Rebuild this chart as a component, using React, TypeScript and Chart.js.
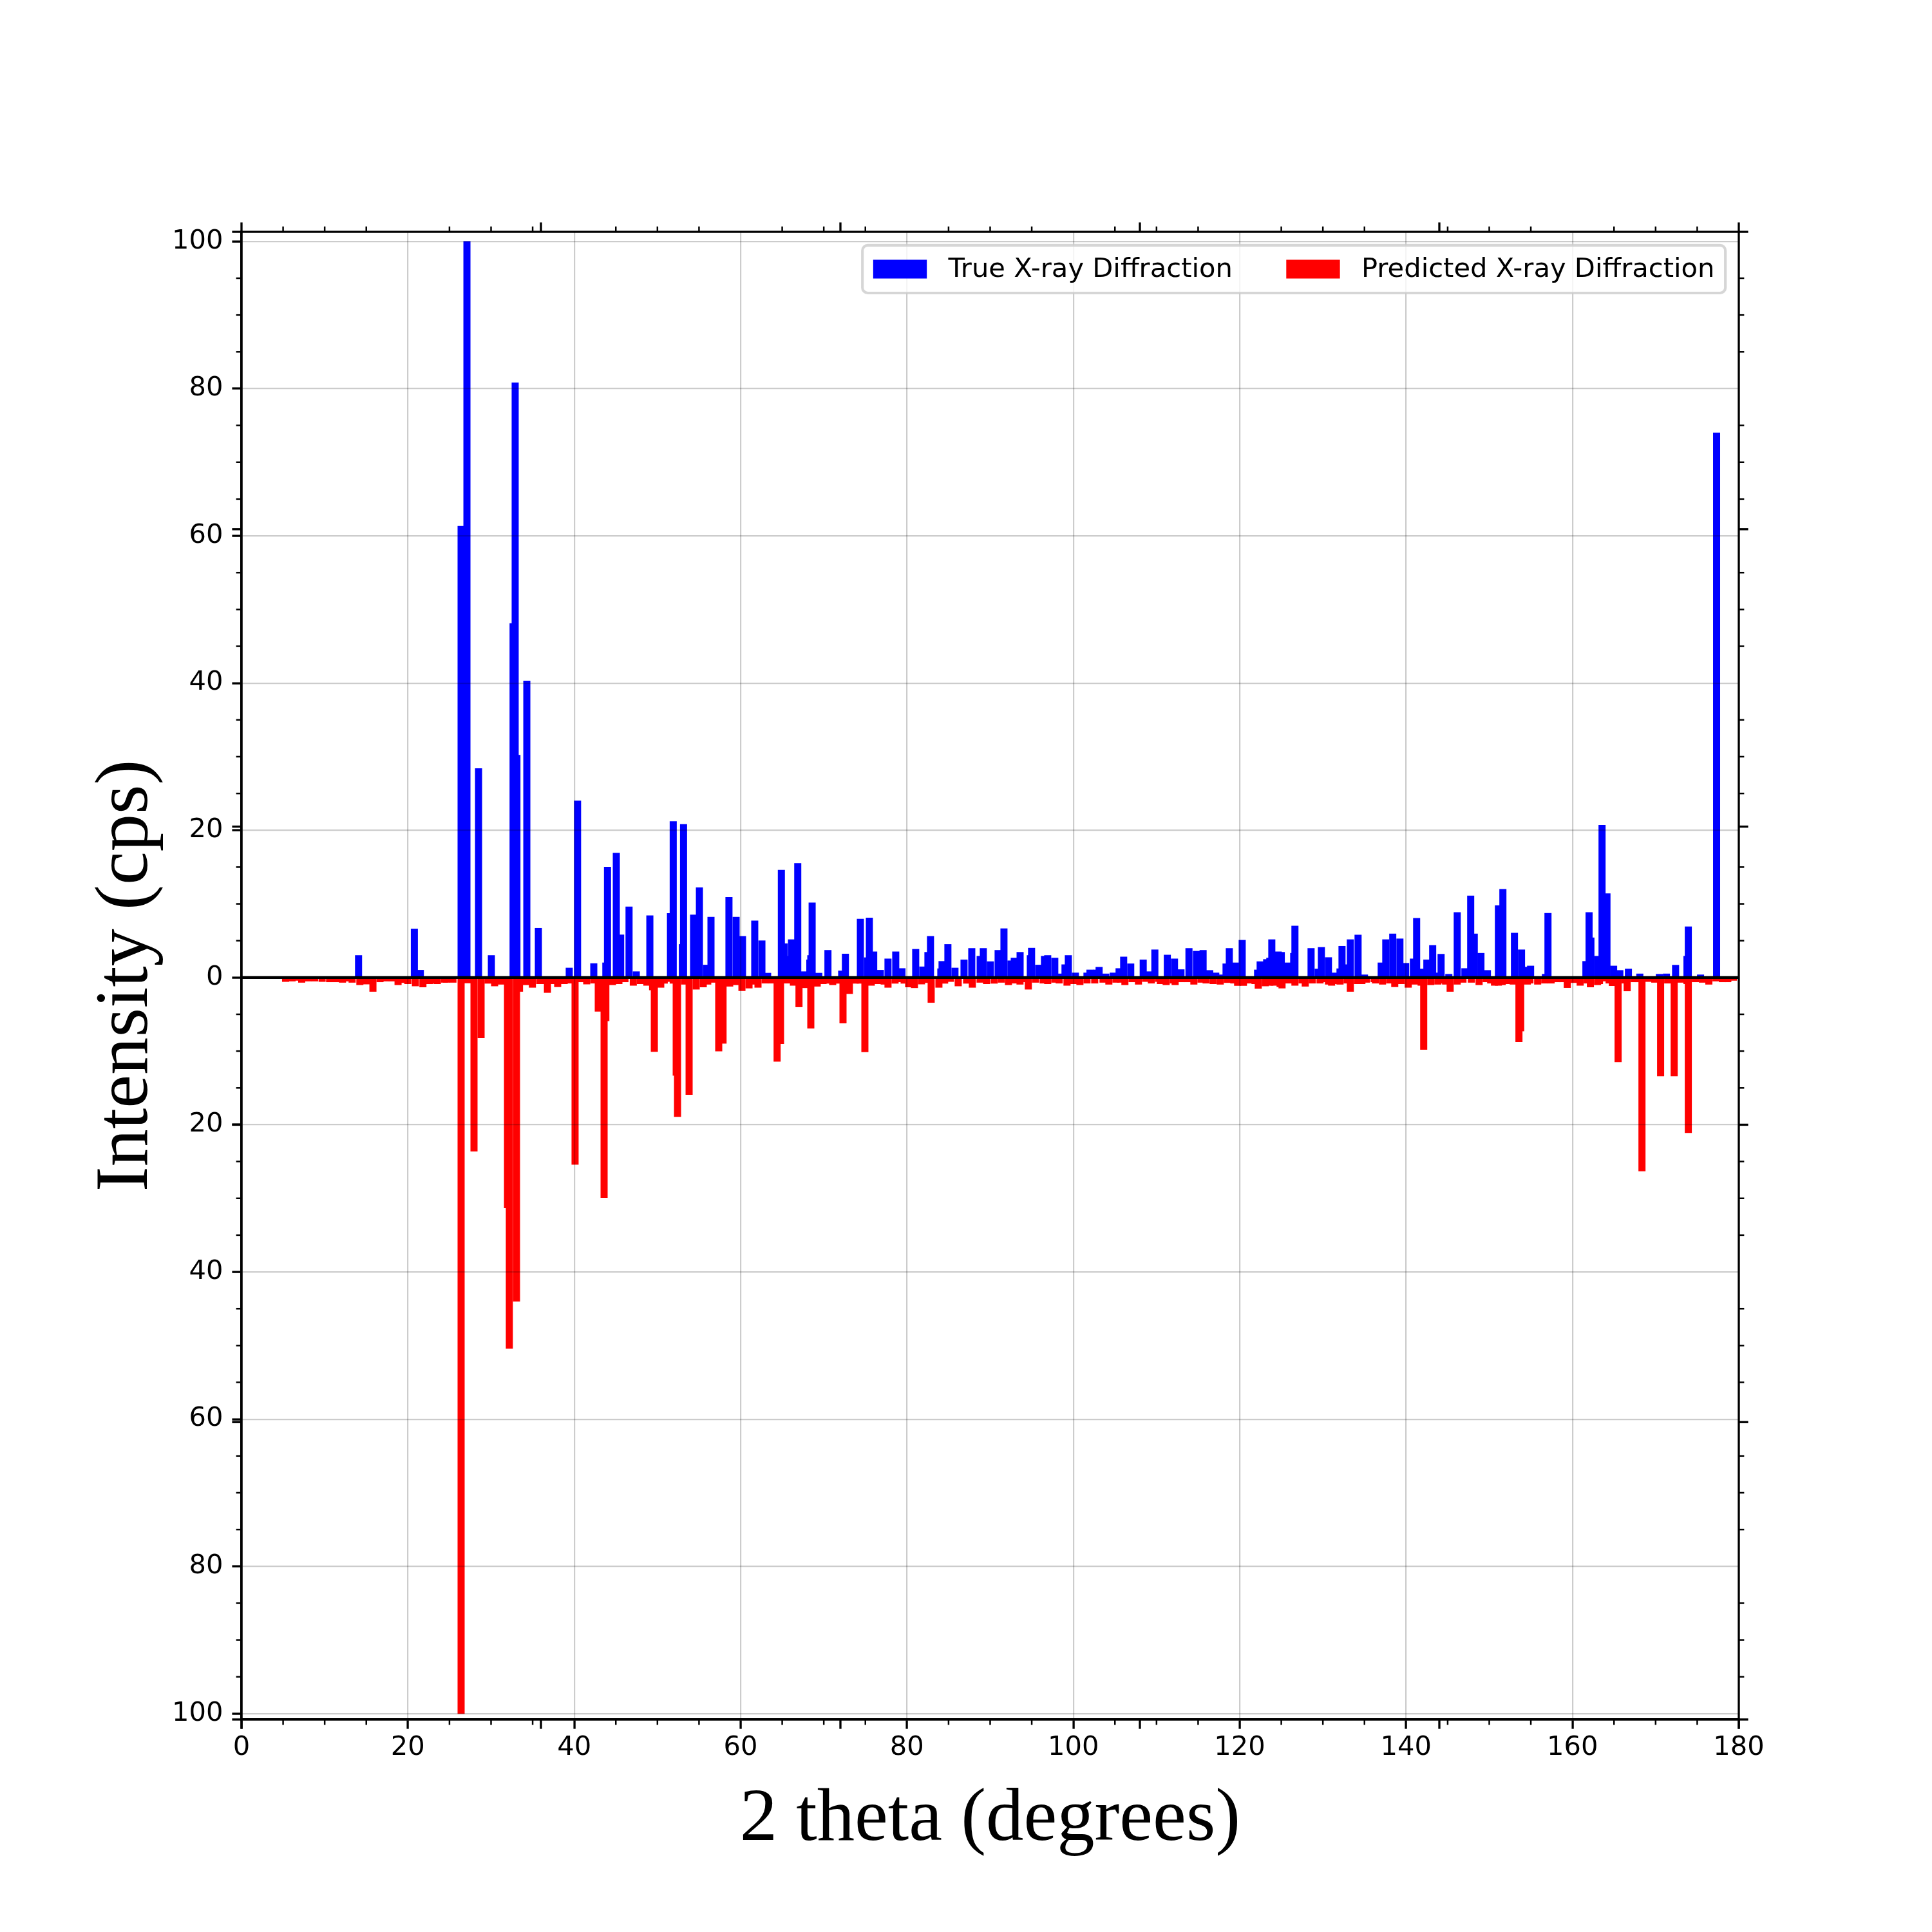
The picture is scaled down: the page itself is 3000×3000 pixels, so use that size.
import React, { useEffect, useRef } from 'react';
import { Chart, registerables } from 'chart.js';

Chart.register(...registerables);

// true pattern: bar centres (2 theta, degrees) and intensities, in drawing order
const trueTheta = [
  14.07, 20.78, 21.5, 26.4, 27.1, 28.5, 30.04, 32.65, 33.11, 32.9,
  34.3, 35.69, 39.4, 40.4, 42.35, 43.8, 44.0, 45.58, 45.06, 46.59,
  47.46, 49.09, 51.57, 51.9, 53.0, 53.14, 54.35, 55.05, 55.9, 56.18,
  56.44, 58.6, 59.46, 60.23, 61.7, 62.56, 63.25, 65.24, 64.9, 66.04,
  66.12, 66.87, 67.67, 68.32, 68.44, 68.6, 69.4, 70.5, 72.15, 72.6,
  74.4, 75.25, 76.0, 75.48, 76.8, 77.72, 78.65, 79.4, 81.05, 81.9,
  82.52, 82.83, 84.07, 84.22, 84.92, 85.77, 86.86, 87.79, 88.8, 89.18,
  90.03, 90.96, 91.66, 92.5, 92.9, 93.6, 94.83, 94.98, 95.83, 96.53,
  96.92, 97.77, 98.23, 99.0, 99.4, 100.25, 101.64, 102.0, 102.8, 103.1,
  103.9, 104.8, 105.5, 106.05, 106.9, 108.4, 109.15, 109.8, 111.3, 112.16,
  112.7, 112.94, 113.9, 114.8, 115.6, 116.4, 117.12, 117.8, 118.36, 118.75,
  119.5, 120.3, 122.15, 122.46, 123.24, 123.62, 123.86, 124.63, 125.0, 125.7,
  126.49, 126.64, 128.58, 129.43, 129.82, 130.67, 131.5, 132.06, 132.3, 133.07,
  133.3, 134.23, 135.0, 137.01, 137.56, 138.4, 139.26, 139.95, 140.88, 141.27,
  142.04, 142.5, 143.2, 143.98, 144.21, 145.14, 146.15, 147.07, 148.2, 147.77,
  149.0, 149.78, 151.1, 151.64, 153.03, 153.88, 154.58, 154.97, 156.75, 157.06,
  161.62, 162.22, 162.0, 163.02, 164.15, 163.56, 164.95, 165.7, 166.73, 168.1,
  170.45, 171.3, 172.4, 173.77, 173.93, 175.4, 177.33,
];
const trueIntensity = [
  3.0, 6.6, 1.0, 61.3, 100, 28.4, 3.0, 48.1, 30.2, 80.8,
  40.3, 6.7, 1.3, 24.0, 1.9, 2.0, 15.0, 5.8, 16.9, 9.6,
  0.8, 8.4, 8.7, 21.2, 4.5, 20.8, 8.5, 12.2, 1.7, 1.0,
  8.2, 10.9, 8.2, 5.6, 7.7, 5.0, 0.6, 4.6, 14.6, 2.9,
  5.15, 15.5, 0.8, 2.4, 3.0, 10.15, 0.6, 3.7, 0.9, 3.2,
  7.95, 2.7, 3.5, 8.1, 1.0, 2.54, 3.5, 1.23, 3.84, 1.46,
  3.43, 5.6, 1.2, 2.2, 4.5, 1.3, 2.4, 3.96, 2.9, 3.96,
  2.16, 3.7, 6.64, 2.28, 2.65, 3.43, 3.0, 4.0, 1.7, 2.9,
  3.0, 2.65, 0.5, 1.75, 3.0, 0.63, 0.63, 1.04, 1.04, 1.4,
  0.5, 0.63, 1.23, 2.8, 1.87, 2.4, 0.8, 3.77, 3.06, 2.54,
  0.5, 1.08, 3.96, 3.58, 3.7, 0.97, 0.63, 0.37, 1.87, 3.96,
  2.0, 5.07, 1.04, 2.16, 2.46, 2.65, 5.15, 3.5, 3.43, 2.0,
  3.3, 7.0, 3.96, 1.16, 4.1, 2.72, 0.63, 1.2, 4.25, 1.75,
  5.15, 5.78, 0.37, 2.0, 5.15, 5.93, 5.26, 1.94, 2.54, 8.06,
  1.16, 2.4, 4.37, 0.63, 3.17, 0.45, 8.84, 1.23, 5.93, 11.1,
  3.3, 0.97, 9.78, 11.98, 6.04, 3.77, 1.42, 1.57, 0.45, 8.73,
  2.2, 5.4, 8.84, 2.9, 11.4, 20.7, 1.57, 0.97, 1.16, 0.5,
  0.45, 0.5, 1.68, 2.9, 6.9, 0.37, 74.0,
];

// predicted pattern, drawn downwards
const predTheta = [
  5.3, 6.08, 6.85, 7.24, 8.01, 8.79, 9.69, 10.59, 11.4, 12.14,
  12.96, 13.3, 14.23, 15.05, 15.8, 16.65, 17.38, 18.1, 18.82, 19.62,
  20.0, 20.91, 21.81, 22.59, 23.23, 23.54, 24.39, 24.65, 25.42, 26.4,
  27.18, 27.95, 28.8, 29.63, 30.43, 31.2, 31.98, 32.2, 33.42, 33.06,
  34.22, 34.97, 35.85, 36.13, 36.78, 37.55, 38.01, 38.79, 39.48, 40.1,
  40.88, 41.5, 42.35, 42.89, 43.8, 43.59, 44.6, 45.37, 46.1, 47.1,
  47.95, 48.73, 49.42, 49.63, 50.4, 50.82, 51.33, 51.9, 52.26, 52.42,
  53.27, 53.81, 54.66, 55.51, 56.05, 56.75, 57.89, 57.37, 58.69, 59.43,
  60.16, 61.01, 61.3, 61.63, 62.09, 62.94, 63.67, 64.8, 64.39, 65.6,
  66.35, 67.02, 67.79, 68.18, 68.44, 69.21, 69.91, 70.37, 71.07, 71.84,
  72.31, 73.08, 73.78, 74.37, 74.94, 75.71, 75.94, 76.64, 77.26, 77.72,
  78.57, 78.96, 79.66, 80.2, 80.9, 81.75, 82.29, 82.91, 83.84, 84.53,
  85.23, 86.16, 87.17, 87.86, 88.79, 89.57, 90.49, 91.35, 92.2, 92.97,
  93.59, 94.36, 94.59, 95.45, 96.37, 96.92, 97.77, 98.3, 99.24, 100.01,
  100.79, 101.64, 102.57, 103.57, 104.27, 105.12, 105.66, 106.2, 107.06, 107.83,
  108.68, 109.38, 110.23, 110.46, 111.16, 112.01, 112.24, 113.01, 113.79, 114.49,
  115.34, 115.96, 116.81, 117.66, 118.51, 119.29, 119.75, 120.45, 121.15, 121.84,
  122.23, 123.08, 123.62, 124.11, 124.86, 125.09, 125.87, 126.02, 126.64, 127.49,
  127.88, 128.73, 129.66, 130.43, 130.67, 131.05, 131.83, 132.06, 132.91, 133.3,
  134.15, 134.69, 135.23, 136.16, 136.32, 137.17, 138.02, 138.64, 139.41, 140.26,
  141.04, 141.35, 141.81, 142.12, 142.97, 143.82, 144.29, 144.75, 145.3, 146.15,
  146.61, 146.84, 147.85, 148.78, 149.63, 150.17, 150.63, 151.1, 151.56, 152.1,
  152.64, 152.88, 153.78, 153.57, 154.58, 154.89, 155.82, 156.67, 157.44, 158.22,
  158.81, 159.38, 160.15, 160.93, 161.78, 162.16, 163.02, 163.25, 164.02, 164.41,
  164.8, 165.49, 166.34, 166.58, 167.43, 167.84, 168.36, 169.13, 169.9, 170.6,
  171.45, 172.23, 173.0, 173.77, 173.93, 174.78, 175.63, 176.4, 177.26, 178.03,
  178.68, 179.35,
];
const predIntensity = [
  -0.56, -0.5, -0.4, -0.67, -0.5, -0.5, -0.56, -0.6, -0.6, -0.67,
  -0.5, -0.67, -1.0, -0.9, -1.9, -0.6, -0.5, -0.5, -1.0, -0.7,
  -0.86, -1.16, -1.3, -0.86, -0.8, -0.86, -0.67, -0.67, -0.67, -100,
  -0.75, -23.6, -8.2, -0.8, -1.16, -0.93, -31.3, -50.4, -1.9, -44.0,
  -1.0, -1.35, -0.86, -0.86, -2.05, -0.86, -1.27, -0.86, -0.78, -25.4,
  -0.6, -0.9, -0.78, -4.6, -5.9, -29.9, -1.0, -0.86, -0.6, -1.08,
  -0.86, -1.08, -1.7, -10.07, -1.35, -0.8, -0.56, -0.8, -13.3, -18.9,
  -0.93, -15.9, -1.6, -1.3, -0.93, -0.67, -8.96, -10.0, -1.2, -1.0,
  -1.8, -1.45, -0.93, -0.75, -1.35, -0.78, -0.78, -9.0, -11.4, -0.78,
  -1.08, -4.0, -1.4, -0.78, -6.9, -1.2, -0.86, -0.8, -1.0, -0.8,
  -6.2, -2.2, -0.8, -0.8, -10.1, -1.08, -0.86, -0.86, -0.93, -1.35,
  -0.8, -0.6, -0.8, -1.3, -1.4, -0.9, -0.7, -3.4, -1.35, -0.8,
  -0.56, -1.16, -0.8, -1.35, -0.67, -0.86, -0.8, -0.67, -1.0, -0.78,
  -0.93, -0.6, -1.6, -0.67, -0.78, -0.86, -0.67, -0.78, -1.08, -0.86,
  -1.0, -0.78, -0.78, -0.67, -0.93, -0.67, -0.67, -1.0, -0.6, -0.93,
  -0.56, -0.78, -0.56, -0.86, -1.0, -0.78, -1.0, -0.6, -0.6, -0.93,
  -0.67, -0.78, -0.86, -0.93, -0.7, -0.78, -1.1, -1.1, -0.78, -0.86,
  -1.5, -1.16, -1.08, -1.08, -1.27, -1.45, -0.78, -0.67, -1.08, -0.78,
  -1.2, -0.78, -0.78, -0.6, -0.93, -1.08, -0.86, -0.93, -0.78, -1.9,
  -0.86, -0.86, -0.67, -0.6, -0.78, -0.93, -0.78, -1.27, -0.86, -1.35,
  -0.93, -0.67, -1.08, -9.78, -1.0, -0.93, -0.78, -0.93, -1.9, -0.93,
  -0.6, -0.67, -0.67, -1.0, -0.6, -0.78, -1.08, -1.08, -1.0, -0.86,
  -0.56, -0.93, -7.28, -8.73, -0.93, -0.78, -0.93, -0.78, -0.78, -0.6,
  -0.6, -1.38, -0.7, -1.08, -0.78, -1.3, -1.0, -0.86, -0.5, -0.78,
  -1.12, -11.46, -0.78, -1.83, -0.6, -0.6, -26.3, -0.56, -0.67, -13.4,
  -0.78, -13.4, -0.67, -0.86, -21.1, -0.6, -0.67, -0.93, -0.5, -0.6,
  -0.6, -0.4,
];

const xTicks = [0, 20, 40, 60, 80, 100, 120, 140, 160, 180];
const yTicks = [-100, -80, -60, -40, -20, 0, 20, 40, 60, 80, 100];
// ticks of the (unlabelled) twin axes
const twinXTicks = [0, 36, 72, 108, 144, 180];
const twinYTicks = [-100.8, -60.4, -20.0, 20.5, 60.9, 101.3];

const X_MIN = 0;
const X_MAX = 180;
const Y_MIN = -100.8;
const Y_MAX = 101.3;
const MINOR_STEP = 5;
const BAR_WIDTH_DEG = 0.8;

// 10x10 inch figure at 300 dpi, default subplot box
const W = 3000;
const H = 3000;
const AREA = { left: 375, right: 2700, top: 360, bottom: 2670 };
const PT = 300 / 72;
const TICK_FONT = 10 * PT;
const LABEL_FONT = 28 * PT;
const GRID = 'rgba(0,0,0,0.2)';

const axesDecor = {
  id: 'axesDecor',
  afterDraw(chart: any) {
    const { ctx, chartArea: a } = chart;
    const xs = chart.scales.x;
    const ys = chart.scales.y;
    const major = 3.5 * PT;
    const minor = 2 * PT;
    const seg = (x1: number, y1: number, x2: number, y2: number) => {
      ctx.beginPath();
      ctx.moveTo(x1, y1);
      ctx.lineTo(x2, y2);
      ctx.stroke();
    };
    ctx.save();
    ctx.strokeStyle = '#000';

    // minor ticks on all four sides
    ctx.lineWidth = 0.6 * PT;
    for (let v = X_MIN; v <= X_MAX; v += MINOR_STEP) {
      if (xTicks.includes(v)) continue;
      const px = xs.getPixelForValue(v);
      seg(px, a.bottom, px, a.bottom + minor);
      seg(px, a.top, px, a.top - minor);
    }
    for (let v = -100; v <= 100; v += MINOR_STEP) {
      if (yTicks.includes(v)) continue;
      const py = ys.getPixelForValue(v);
      seg(a.left, py, a.left - minor, py);
      seg(a.right, py, a.right + minor, py);
    }

    // twin axis major ticks
    ctx.lineWidth = 0.8 * PT;
    twinXTicks.forEach((v) => {
      const px = xs.getPixelForValue(v);
      seg(px, a.bottom, px, a.bottom + major);
      seg(px, a.top, px, a.top - major);
    });
    twinYTicks.forEach((v) => {
      const py = ys.getPixelForValue(v);
      seg(a.left, py, a.left - major, py);
      seg(a.right, py, a.right + major, py);
    });

    // frame
    ctx.strokeRect(a.left, a.top, a.right - a.left, a.bottom - a.top);

    // legend, upper right, two columns
    const fs = TICK_FONT;
    ctx.font = `${fs}px "DejaVu Sans"`;
    const items = chart.data.datasets.slice(0, 2).map((d: any) => ({
      label: d.label,
      color: d.backgroundColor,
      w: ctx.measureText(d.label).width,
    }));
    const pad = 0.4 * fs;
    const hl = 2 * fs;
    const hh = 0.7 * fs;
    const tp = 0.8 * fs;
    const cs = 2 * fs;
    let total = 2 * pad + cs * (items.length - 1);
    items.forEach((it: any) => { total += hl + tp + it.w; });
    const right = a.right - 0.5 * fs;
    const left = right - total;
    const top = a.top + 0.5 * fs;
    const bottom = top + 1.78 * fs;
    const cy = (top + bottom) / 2;

    ctx.beginPath();
    if (ctx.roundRect) ctx.roundRect(left, top, right - left, bottom - top, 0.2 * fs);
    else ctx.rect(left, top, right - left, bottom - top);
    ctx.fillStyle = 'rgba(255,255,255,0.8)';
    ctx.fill();
    ctx.lineWidth = PT;
    ctx.strokeStyle = 'rgba(204,204,204,0.8)';
    ctx.stroke();

    let x = left + pad;
    ctx.textBaseline = 'alphabetic';
    ctx.textAlign = 'left';
    items.forEach((it: any) => {
      ctx.fillStyle = it.color;
      ctx.fillRect(x, cy - hh / 2, hl, hh);
      x += hl + tp;
      ctx.fillStyle = '#000';
      ctx.fillText(it.label, x, cy + 0.3 * fs);
      x += it.w + cs;
    });
    ctx.restore();
  },
};

const XrdChart: React.FC = () => {
  const canvasRef = useRef<HTMLCanvasElement>(null);

  useEffect(() => {
    if (!canvasRef.current) return;
    const barPx = BAR_WIDTH_DEG * (AREA.right - AREA.left) / (X_MAX - X_MIN);
    const chart = new Chart(canvasRef.current, {
      type: 'bar',
      data: {
        datasets: [
          {
            label: 'True X-ray Diffraction',
            data: trueTheta.map((t, i) => ({ x: t, y: trueIntensity[i] })),
            backgroundColor: '#0000ff',
            borderWidth: 0,
            barThickness: barPx,
            grouped: false,
            order: 2,
          },
          {
            label: 'Predicted X-ray Diffraction',
            data: predTheta.map((t, i) => ({ x: t, y: predIntensity[i] })),
            backgroundColor: '#ff0000',
            borderWidth: 0,
            barThickness: barPx,
            grouped: false,
            order: 1,
          },
          {
            type: 'line',
            label: 'zero',
            data: [{ x: X_MIN, y: 0 }, { x: X_MAX, y: 0 }],
            borderColor: '#000000',
            borderWidth: PT,
            pointRadius: 0,
            order: 0,
          },
        ] as any,
      },
      options: {
        responsive: false,
        animation: false,
        devicePixelRatio: 1,
        events: [],
        layout: { padding: { left: 0, top: AREA.top, right: W - AREA.right, bottom: 0 } },
        plugins: { legend: { display: false }, tooltip: { enabled: false } },
        scales: {
          x: {
            type: 'linear',
            min: X_MIN,
            max: X_MAX,
            offset: false,
            afterFit: (s: any) => { s.height = H - AREA.bottom; },
            afterBuildTicks: (s: any) => { s.ticks = xTicks.map((v) => ({ value: v })); },
            grid: {
              offset: false,
              color: GRID,
              lineWidth: 2.2,
              z: 1,
              tickLength: 3.5 * PT,
              tickColor: '#000',
              tickWidth: 0.8 * PT,
            },
            border: { display: true, color: '#000', width: 0.8 * PT, z: 1 },
            ticks: {
              color: '#000',
              font: { family: 'DejaVu Sans', size: TICK_FONT },
              padding: 5,
              maxRotation: 0,
              autoSkip: false,
              callback: (v: any) => String(v),
            },
            title: {
              display: true,
              text: '2 theta (degrees)',
              color: '#000',
              font: { family: 'Liberation Serif', size: LABEL_FONT },
              padding: { top: 0, bottom: 104 },
            },
          },
          y: {
            type: 'linear',
            min: Y_MIN,
            max: Y_MAX,
            afterFit: (s: any) => { s.width = AREA.left; },
            afterBuildTicks: (s: any) => { s.ticks = yTicks.map((v) => ({ value: v })); },
            grid: {
              color: GRID,
              lineWidth: 2.2,
              z: 1,
              tickLength: 3.5 * PT,
              tickColor: '#000',
              tickWidth: 0.8 * PT,
            },
            border: { display: true, color: '#000', width: 0.8 * PT, z: 1 },
            ticks: {
              color: '#000',
              font: { family: 'DejaVu Sans', size: TICK_FONT },
              padding: 14,
              callback: (v: any) => String(Math.abs(Number(v))),
            },
            title: {
              display: true,
              text: 'Intensity (cps)',
              color: '#000',
              font: { family: 'Liberation Serif', size: LABEL_FONT },
              padding: { top: 127, bottom: 0 },
            },
          },
        },
      } as any,
      plugins: [axesDecor],
    });
    return () => chart.destroy();
  }, []);

  return (
    <div style={{ position: 'absolute', left: 0, top: 0, width: W, height: H, background: '#fff' }}>
      <canvas ref={canvasRef} width={W} height={H} style={{ width: W, height: H, display: 'block' }} />
    </div>
  );
};

export default function App() {
  return <XrdChart />;
}
